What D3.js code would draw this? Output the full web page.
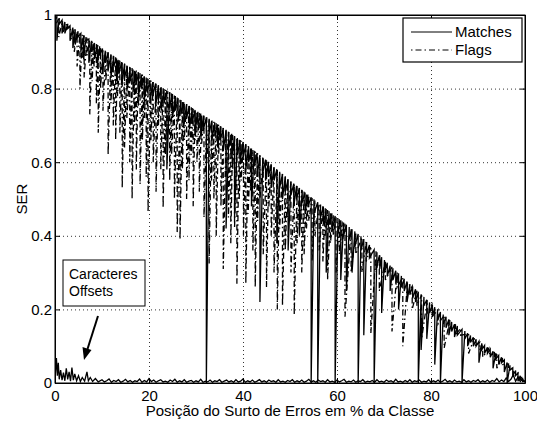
<!DOCTYPE html>
<html>
<head>
<meta charset="utf-8">
<script src="https://cdn.jsdelivr.net/npm/d3@7"></script>
<style>
    body { margin: 0; background: #fff; }
    svg { display: block; font-family: "Liberation Sans", Arial, Helvetica, sans-serif; }
    .axis path, .axis line { stroke: #000; }
    .axis text { font-size: 15px; fill: #000; }
    .grid line { stroke: #000; stroke-width: 0.8; stroke-dasharray: 1,3; }
    .grid path { display: none; }
</style>
</head>
<body>
<script>
// Chart values
// each row: [x, upper value, lower value of the drop]
const MATCHES = [
    [0,1.0,0.99],[0.4,0.996,0.93],[0.9,0.992,0.975],[1.5,0.986,0.95],[2.1,0.981,0.95],[2.7,0.976,0.965],
    [3.2,0.971,0.93],[3.8,0.966,0.91],[4.3,0.961,0.92],[4.9,0.956,0.94],[5.5,0.950,0.9],[6.1,0.945,0.88],
    [6.6,0.940,0.93],[7.2,0.935,0.87],[7.8,0.930,0.9],[8.4,0.924,0.88],[9.0,0.919,0.86],[9.5,0.915,0.89],
    [10.1,0.909,0.84],[10.7,0.903,0.87],[11.3,0.898,0.85],[11.9,0.892,0.83],[12.5,0.888,0.86],[13.1,0.882,0.82],
    [13.6,0.878,0.84],[14.2,0.872,0.81],[14.8,0.867,0.83],[15.4,0.861,0.8],[16.0,0.857,0.82],[16.6,0.852,0.79],
    [17.2,0.847,0.81],[17.8,0.843,0.78],[18.4,0.838,0.8],[19.0,0.833,0.77],[19.6,0.828,0.79],[20.2,0.823,0.76],
    [20.8,0.818,0.78],[21.4,0.814,0.75],[22.0,0.809,0.77],[22.6,0.804,0.74],[23.2,0.799,0.76],[23.8,0.795,0.58],
    [24.4,0.790,0.75],[25.0,0.785,0.72],[25.6,0.780,0.74],[26.2,0.774,0.71],[26.8,0.769,0.73],[27.4,0.763,0.70],
    [28.0,0.758,0.72],[28.6,0.753,0.69],[29.2,0.747,0.71],[29.8,0.742,0.68],[30.4,0.737,0.70],[31.0,0.732,0.67],
    [31.6,0.727,0.69],[32.2,0.722,0.0],[32.8,0.718,0.68],[33.4,0.713,0.66],[34.0,0.708,0.67],[34.6,0.703,0.64],
    [35.2,0.698,0.66],[35.8,0.693,0.63],[36.4,0.688,0.42],[37.0,0.682,0.64],[37.6,0.677,0.61],[38.2,0.671,0.45],
    [38.8,0.666,0.62],[39.4,0.660,0.60],[40.0,0.655,0.61],[40.6,0.649,0.58],[41.2,0.643,0.60],[41.8,0.637,0.48],
    [42.4,0.631,0.59],[43.0,0.625,0.56],[43.6,0.619,0.22],[44.2,0.613,0.57],[44.8,0.607,0.55],[45.4,0.601,0.56],
    [46.0,0.594,0.53],[46.6,0.587,0.55],[47.2,0.581,0.38],[47.8,0.574,0.53],[48.4,0.568,0.5],[49.0,0.561,0.52],
    [49.6,0.554,0.36],[50.2,0.548,0.51],[50.8,0.542,0.48],[51.4,0.536,0.5],[52.0,0.530,0.40],[52.6,0.524,0.49],
    [53.2,0.518,0.46],[53.8,0.512,0.48],[54.5,0.505,0.0],[55.1,0.499,0.46],[55.9,0.491,0.0],[56.5,0.485,0.45],
    [57.1,0.479,0.43],[57.7,0.473,0.30],[58.3,0.467,0.43],[58.9,0.461,0.41],[59.6,0.454,0.0],[60.2,0.448,0.41],
    [60.8,0.442,0.28],[61.4,0.436,0.40],[62.0,0.430,0.25],[62.6,0.424,0.39],[63.2,0.418,0.30],[63.8,0.412,0.37],
    [64.5,0.405,0.0],[65.1,0.399,0.36],[65.7,0.391,0.13],[66.3,0.383,0.35],[66.9,0.375,0.34],[67.9,0.362,0.0],
    [68.5,0.355,0.32],[69.1,0.347,0.31],[69.5,0.342,0.19],[70.1,0.334,0.30],[70.7,0.327,0.29],[71.3,0.319,0.25],
    [71.9,0.312,0.28],[72.5,0.305,0.27],[73.1,0.298,0.20],[73.7,0.291,0.26],[74.3,0.283,0.25],[74.9,0.276,0.22],
    [75.5,0.269,0.24],[76.1,0.262,0.23],[76.7,0.255,0.22],[77.3,0.248,0.0],[77.9,0.241,0.09],[78.5,0.234,0.21],
    [79.1,0.226,0.12],[79.7,0.219,0.19],[80.3,0.212,0.18],[80.8,0.206,0.05],[81.4,0.200,0.17],[82.0,0.193,0.0],
    [82.6,0.186,0.16],[83.2,0.180,0.15],[83.8,0.173,0.13],[84.4,0.166,0.14],[85.0,0.160,0.125],[85.6,0.155,0.13],
    [86.6,0.146,0.0],[87.2,0.141,0.12],[87.8,0.135,0.10],[88.4,0.129,0.11],[89.0,0.124,0.10],[89.6,0.119,0.10],
    [90.2,0.113,0.055],[90.8,0.108,0.09],[91.4,0.102,0.08],[92.0,0.097,0.08],[92.6,0.092,0.07],[93.2,0.086,0.04],
    [93.8,0.081,0.065],[94.4,0.075,0.05],[95.0,0.070,0.055],[95.6,0.063,0.03],[96.2,0.056,0.0],[96.8,0.048,0.035],
    [97.4,0.041,0.02],[98.0,0.034,0.02],[98.5,0.027,0.005],[99.0,0.020,0.01],[99.5,0.012,0.004],[100,0.005,0.005]
];

const FLAGS = [
    [0,0.998,0.97],[0.8,0.99,0.94],[1.6,0.984,0.95],[2.4,0.976,0.96],[3.3,0.969,0.93],[4.1,0.961,0.90],
    [4.7,0.955,0.86],[5.3,0.950,0.80],[5.8,0.946,0.88],[6.2,0.944,0.83],[6.8,0.938,0.89],[7.4,0.933,0.73],
    [7.9,0.928,0.82],[8.3,0.925,0.86],[8.8,0.921,0.76],[9.2,0.917,0.68],[9.7,0.913,0.80],[10.2,0.908,0.74],
    [10.8,0.903,0.82],[11.3,0.899,0.62],[11.9,0.893,0.76],[12.4,0.889,0.70],[12.9,0.885,0.66],[13.3,0.881,0.78],
    [13.8,0.877,0.68],[14.3,0.873,0.53],[14.8,0.868,0.64],[15.3,0.864,0.72],[15.9,0.859,0.60],[16.4,0.856,0.50],
    [16.9,0.852,0.70],[17.3,0.849,0.58],[17.7,0.845,0.75],[18.1,0.842,0.54],[18.6,0.838,0.66],[19.0,0.833,0.72],
    [19.4,0.830,0.56],[19.8,0.827,0.465],[20.4,0.822,0.66],[20.9,0.818,0.60],[21.5,0.813,0.52],[22.0,0.809,0.70],
    [22.5,0.805,0.58],[23.0,0.801,0.475],[23.5,0.797,0.62],[24.0,0.793,0.68],[24.4,0.790,0.55],[24.8,0.787,0.62],
    [25.4,0.781,0.50],[26.0,0.776,0.41],[26.6,0.770,0.39],[27.1,0.766,0.58],[27.5,0.762,0.66],[28.0,0.758,0.50],
    [28.5,0.753,0.55],[29.0,0.749,0.62],[29.4,0.745,0.48],[29.8,0.742,0.66],[30.2,0.738,0.60],[30.7,0.734,0.52],
    [31.2,0.730,0.65],[31.7,0.726,0.45],[32.3,0.722,0.60],[32.8,0.718,0.325],[33.3,0.714,0.55],[33.8,0.710,0.50],
    [34.3,0.706,0.40],[34.8,0.702,0.62],[35.3,0.697,0.48],[35.8,0.693,0.31],[36.4,0.688,0.56],[36.9,0.683,0.45],
    [37.4,0.678,0.38],[37.8,0.674,0.58],[38.2,0.670,0.42],[38.7,0.666,0.27],[39.2,0.661,0.50],[39.6,0.658,0.55],
    [40.1,0.653,0.40],[40.6,0.649,0.27],[41.1,0.644,0.46],[41.6,0.639,0.52],[42.1,0.634,0.36],[42.6,0.629,0.26],
    [43.1,0.624,0.44],[43.6,0.619,0.50],[44.3,0.612,0.35],[45.0,0.605,0.26],[45.5,0.600,0.48],[46.0,0.594,0.40],
    [46.6,0.587,0.30],[47.3,0.580,0.20],[47.8,0.574,0.42],[48.4,0.568,0.21],[49.0,0.561,0.36],[49.5,0.556,0.45],
    [50.2,0.548,0.30],[50.9,0.541,0.185],[51.5,0.535,0.38],[52.0,0.530,0.42],[52.5,0.525,0.30],[53.0,0.520,0.35],
    [53.5,0.515,0.42],[54.0,0.510,0.44],[54.7,0.503,0.33],[55.3,0.497,0.40],[56.2,0.488,0.36],[57.0,0.480,0.33],
    [57.5,0.475,0.40],[58.0,0.470,0.28],[58.6,0.464,0.38],[59.2,0.458,0.40],[59.8,0.452,0.30],[60.5,0.445,0.35],
    [61.1,0.439,0.38],[61.7,0.433,0.18],[63.0,0.420,0.30],[64.0,0.410,0.35],[65.3,0.396,0.30],[66.2,0.385,0.33],
    [67.2,0.372,0.135],[68.3,0.358,0.30],[69.0,0.348,0.25],[70.3,0.332,0.28],[71.7,0.315,0.14],[72.8,0.302,0.26],
    [74.0,0.287,0.10],[75.0,0.275,0.24],[76.0,0.263,0.20],[77.0,0.251,0.21],[78.0,0.239,0.12],[79.2,0.225,0.19],
    [80.2,0.213,0.18],[81.5,0.199,0.16],[82.8,0.184,0.095],[84.0,0.171,0.15],[85.2,0.158,0.13],[86.3,0.149,0.13],
    [88.0,0.133,0.08],[89.2,0.122,0.10],[90.4,0.111,0.09],[91.0,0.106,0.07],[92.3,0.094,0.08],[93.5,0.083,0.06],
    [94.0,0.079,0.04],[95.2,0.068,0.05],[96.5,0.052,0.04],[97.5,0.040,0.02],[98.5,0.027,0.015],[99.3,0.015,0.008],
    [100,0.005,0.005]
];

// the low curve near zero ("Caracteres Offsets")
const OFFSETS = [
    [0,0.01],[0.3,0.068],[0.5,0.02],[0.7,0.055],[0.9,0.01],[1.2,0.035],[1.5,0.008],[1.8,0.028],[2.1,0.006],
    [2.4,0.04],[2.7,0.01],[3.0,0.03],[3.3,0.005],[3.6,0.042],[3.9,0.008],[4.2,0.025],[4.6,0.006],[5.0,0.02],
    [5.4,0.004],[5.8,0.015],[6.3,0.005],[6.8,0.03],[7.1,0.006],[7.5,0.015],[8.0,0.004],[8.6,0.012],[9.2,0.003],
    [10,0.009],[10.5,0.003],[11,0.006],[11.5,0.011],[12,0.002],[12.5,0.007],[13,0.004],[13.5,0.009],[14,0.002],
    [14.5,0.005],[15,0.010],[15.5,0.003],[16,0.007],[16.5,0.002],[17,0.006],[17.5,0.004],[18,0.011],[18.5,0.002],
    [19,0.007],[19.5,0.003],[20,0.012],[20.5,0.004],[21,0.008],[21.5,0.002],[22,0.006],[22.5,0.009],[23,0.003],
    [23.5,0.005],[24,0.002],[24.5,0.008],[25,0.004],[25.5,0.010],[26,0.002],[26.5,0.006],[27,0.003],[27.5,0.009],
    [28,0.002],[28.5,0.005],[29,0.007],[29.5,0.002],[30,0.006],[30.5,0.003],[31,0.010],[31.5,0.002],[32,0.005],
    [32.5,0.003],[33,0.008],[33.5,0.002],[34,0.006],[34.5,0.004],[35,0.009],[35.5,0.002],[36,0.005],[36.5,0.008],
    [37,0.003],[37.5,0.006],[38,0.002],[38.5,0.009],[39,0.003],[39.5,0.005],[40,0.011],[40.5,0.002],[41,0.006],
    [41.5,0.003],[42,0.008],[42.5,0.002],[43,0.005],[43.5,0.009],[44,0.003],[44.5,0.006],[45,0.002],[45.5,0.008],
    [46,0.004],[46.5,0.006],[47,0.002],[47.5,0.009],[48,0.003],[48.5,0.005],[49,0.002],[49.5,0.007],[50,0.004],
    [50.5,0.009],[51,0.002],[51.5,0.006],[52,0.003],[52.5,0.008],[53,0.002],[53.5,0.005],[54,0.010],[54.5,0.003],
    [55,0.006],[55.5,0.002],[56,0.008],[56.5,0.004],[57,0.006],[57.5,0.002],[58,0.009],[58.5,0.003],[59,0.005],
    [59.5,0.002],[60,0.008],[60.5,0.003],[61,0.006],[61.5,0.010],[62,0.002],[62.5,0.005],[63,0.003],[63.5,0.008],
    [64,0.002],[64.5,0.006],[65,0.004],[65.5,0.009],[66,0.002],[66.5,0.005],[67,0.003],[67.5,0.007],[68,0.002],
    [68.5,0.009],[69,0.003],[69.5,0.005],[70,0.002],[70.5,0.008],[71,0.004],[71.5,0.006],[72,0.002],[72.5,0.010],
    [73,0.003],[73.5,0.005],[74,0.002],[74.5,0.007],[75,0.003],[75.5,0.009],[76,0.002],[76.5,0.006],[77,0.004],
    [77.5,0.008],[78,0.002],[78.5,0.005],[79,0.003],[79.5,0.009],[80,0.002],[80.5,0.006],[81,0.003],[81.5,0.008],
    [82,0.002],[82.5,0.005],[83,0.010],[83.5,0.003],[84,0.006],[84.5,0.002],[85,0.008],[85.5,0.003],[86,0.005],
    [86.5,0.002],[87,0.009],[87.5,0.003],[88,0.006],[88.5,0.002],[89,0.007],[89.5,0.004],[90,0.009],[90.5,0.002],
    [91,0.006],[91.5,0.003],[92,0.008],[92.5,0.002],[93,0.007],[93.5,0.004],[94,0.012],[94.5,0.003],[95,0.008],
    [95.5,0.004],[96,0.014],[96.5,0.004],[97,0.010],[97.5,0.022],[98,0.005],[98.5,0.016],[99,0.004],[99.5,0.010],
    [100,0.003]
];

const X_TICKS = [0, 20, 40, 60, 80, 100];
const Y_TICKS = [0, 0.2, 0.4, 0.6, 0.8, 1];
const Y_TICK_LABELS = ["0", "0.2", "0.4", "0.6", "0.8", "1"];
const SERIES_NAMES = ["Matches", "Flags"];
const NOTE_LINES = ["Caracteres", "Offsets"];
const X_TITLE = "Posição do Surto de Erros em % da Classe";
const Y_TITLE = "SER";

const CHART = {
    width: 537,
    height: 421,
    left: 55,
    right: 525,
    top: 15,
    bottom: 383,
    fontSize: 15,
    lineWidth: 1.3,
    dashDot: "6,3,1.5,3"
};

class SerChart {
    constructor(config) {
        this.config = config;
        this.svg = d3.select("body").append("svg")
            .attr("width", config.width)
            .attr("height", config.height);
        this.x = d3.scaleLinear().domain([0, 100]).range([config.left, config.right]);
        this.y = d3.scaleLinear().domain([0, 1]).range([config.bottom, config.top]);
        this.line = d3.line().x(d => this.x(d[0])).y(d => this.y(d[1]));
    }

    render() {
        this.drawGrid();
        this.drawSeries();
        this.drawAxes();
        this.drawLegend();
        this.drawNote();
    }

    drawGrid() {
        const c = this.config;
        this.svg.append("g").attr("class", "grid")
            .attr("transform", `translate(0,${c.bottom})`)
            .call(d3.axisBottom(this.x).tickValues(X_TICKS.slice(1, -1))
                .tickSize(-(c.bottom - c.top)).tickFormat(""));
        this.svg.append("g").attr("class", "grid")
            .attr("transform", `translate(${c.left},0)`)
            .call(d3.axisLeft(this.y).tickValues(Y_TICKS.slice(1, -1))
                .tickSize(-(c.right - c.left)).tickFormat(""));
    }

    // spike rows -> point list: upper value then the drop
    spikePoints(rows) {
        return rows.flatMap(r => [[r[0], r[1]], [r[0], r[2]]]);
    }

    drawSeries() {
        const c = this.config;
        this.svg.append("clipPath").attr("id", "plot-clip")
            .append("rect")
            .attr("x", c.left).attr("y", c.top - 1)
            .attr("width", c.right - c.left).attr("height", c.bottom - c.top + 1);

        const g = this.svg.append("g").attr("clip-path", "url(#plot-clip)");

        g.append("path")
            .attr("d", this.line(this.spikePoints(FLAGS)))
            .attr("fill", "none").attr("stroke", "#000")
            .attr("stroke-width", c.lineWidth)
            .attr("stroke-dasharray", c.dashDot);

        g.append("path")
            .attr("d", this.line(this.spikePoints(MATCHES)))
            .attr("fill", "none").attr("stroke", "#000")
            .attr("stroke-width", c.lineWidth);

        g.append("path")
            .attr("d", this.line(OFFSETS))
            .attr("fill", "none").attr("stroke", "#000")
            .attr("stroke-width", c.lineWidth);
    }

    drawAxes() {
        const c = this.config;
        const fmtY = (d, i) => Y_TICK_LABELS[i];

        this.svg.append("g").attr("class", "axis")
            .attr("transform", `translate(0,${c.bottom})`)
            .call(d3.axisBottom(this.x).tickValues(X_TICKS).tickSize(-5).tickPadding(7).tickSizeOuter(0));
        this.svg.append("g").attr("class", "axis")
            .attr("transform", `translate(0,${c.top})`)
            .call(d3.axisTop(this.x).tickValues(X_TICKS).tickSize(-5).tickFormat("").tickSizeOuter(0));
        this.svg.append("g").attr("class", "axis")
            .attr("transform", `translate(${c.left},0)`)
            .call(d3.axisLeft(this.y).tickValues(Y_TICKS).tickFormat(fmtY).tickSize(-5).tickPadding(3).tickSizeOuter(0));
        this.svg.append("g").attr("class", "axis")
            .attr("transform", `translate(${c.right},0)`)
            .call(d3.axisRight(this.y).tickValues(Y_TICKS).tickFormat("").tickSize(-5).tickSizeOuter(0));

        this.svg.append("rect")
            .attr("x", c.left).attr("y", c.top)
            .attr("width", c.right - c.left).attr("height", c.bottom - c.top)
            .attr("fill", "none").attr("stroke", "#000").attr("stroke-width", 1);

        this.svg.append("text")
            .attr("x", (c.left + c.right) / 2).attr("y", 416)
            .attr("text-anchor", "middle").attr("font-size", c.fontSize)
            .text(X_TITLE);

        this.svg.append("text")
            .attr("transform", `translate(27,${(c.top + c.bottom) / 2}) rotate(-90)`)
            .attr("text-anchor", "middle").attr("font-size", c.fontSize)
            .text(Y_TITLE);
    }

    drawLegend() {
        const box = { x: 403, y: 18, w: 119, h: 44 };
        const g = this.svg.append("g");
        g.append("rect")
            .attr("x", box.x).attr("y", box.y).attr("width", box.w).attr("height", box.h)
            .attr("fill", "#fff").attr("stroke", "#000").attr("stroke-width", 1.2);

        SERIES_NAMES.forEach((name, i) => {
            const ly = box.y + 14 + i * 18;
            g.append("line")
                .attr("x1", box.x + 8).attr("x2", box.x + 49)
                .attr("y1", ly).attr("y2", ly)
                .attr("stroke", "#000").attr("stroke-width", 1)
                .attr("stroke-dasharray", i === 1 ? "1.5,3,6,3,1.5,3,6,3" : null);
            g.append("text")
                .attr("x", box.x + 52).attr("y", ly + 5)
                .attr("font-size", this.config.fontSize)
                .text(name);
        });
    }

    drawNote() {
        const g = this.svg.append("g");
        g.append("rect")
            .attr("x", 63).attr("y", 260).attr("width", 82).attr("height", 46)
            .attr("fill", "#fff").attr("stroke", "#000").attr("stroke-width", 1);
        NOTE_LINES.forEach((t, i) => {
            g.append("text")
                .attr("x", 69).attr("y", 279 + i * 17)
                .attr("font-size", 14)
                .text(t);
        });
        // arrow pointing at the offsets curve
        g.append("line")
            .attr("x1", 98).attr("y1", 316).attr("x2", 87.5).attr("y2", 349)
            .attr("stroke", "#000").attr("stroke-width", 2);
        g.append("path")
            .attr("d", "M84,360 L82.5,347 L91.5,350 Z")
            .attr("fill", "#000");
    }
}

document.addEventListener("DOMContentLoaded", () => {
    new SerChart(CHART).render();
});
</script>
</body>
</html>
